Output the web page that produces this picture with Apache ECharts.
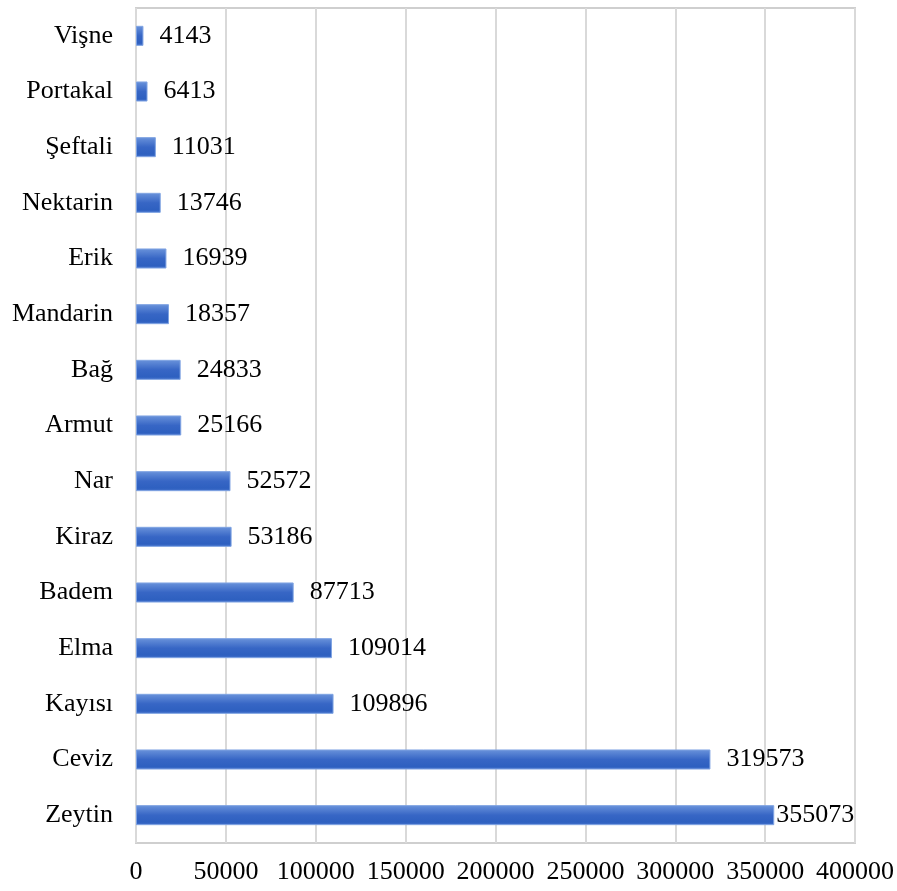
<!DOCTYPE html>
<html>
<head>
<meta charset="utf-8">
<script src="https://cdn.jsdelivr.net/npm/echarts@6/dist/echarts.min.js"></script>
<style>
  html, body { margin: 0; padding: 0; background: #ffffff; }
  #chart { width: 897px; height: 891px; }
</style>
</head>
<body>
<div id="chart"></div>
<script>
// Fruit tree counts by species
const categories = ['Vişne', 'Portakal', 'Şeftali', 'Nektarin', 'Erik', 'Mandarin', 'Bağ', 'Armut',
  'Nar', 'Kiraz', 'Badem', 'Elma', 'Kayısı', 'Ceviz', 'Zeytin'];
const values = [4143, 6413, 11031, 13746, 16939, 18357, 24833, 25166,
  52572, 53186, 87713, 109014, 109896, 319573, 355073];
const xTicks = [0, 50000, 100000, 150000, 200000, 250000, 300000, 350000, 400000];

const font = 'Liberation Serif, Times New Roman, serif';
const chart = echarts.init(document.getElementById('chart'));

// The longest bar's label sits tight against the bar so it stays inside the frame
const maxValue = Math.max(...values);
const seriesData = values.map(v => v === maxValue ? { value: v, label: { distance: 2 } } : v);

chart.setOption({
  backgroundColor: '#ffffff',
  animation: false,
  grid: {
    left: 136, right: 42, top: 8, bottom: 48,
    show: true, borderColor: '#cfcfcf', borderWidth: 2, backgroundColor: 'transparent'
  },
  xAxis: {
    type: 'value',
    min: xTicks[0],
    max: xTicks[xTicks.length - 1],
    interval: xTicks[1] - xTicks[0],
    axisLine: { show: false },
    axisTick: { show: false },
    splitLine: { show: true, lineStyle: { color: '#d9d9d9', width: 2 } },
    axisLabel: { color: '#000', fontFamily: font, fontSize: 26, margin: 16, formatter: v => String(v) }
  },
  yAxis: {
    type: 'category',
    inverse: true,
    data: categories,
    axisLine: { show: false },
    axisTick: { show: false },
    axisLabel: { color: '#000', fontFamily: font, fontSize: 26, margin: 23 }
  },
  series: [{
    type: 'bar',
    data: seriesData,
    barWidth: '36%',
    itemStyle: {
      color: new echarts.graphic.LinearGradient(0, 0, 0, 1, [
        { offset: 0, color: '#6a93db' },
        { offset: 0.5, color: '#3766c5' },
        { offset: 0.85, color: '#2e60c0' },
        { offset: 1, color: '#4875ce' }
      ]),
      borderColor: '#7fa3e2',
      borderWidth: 1
    },
    label: {
      show: true,
      position: 'right',
      distance: 16,
      color: '#000',
      fontFamily: font,
      fontSize: 26
    }
  }]
});
</script>
</body>
</html>
